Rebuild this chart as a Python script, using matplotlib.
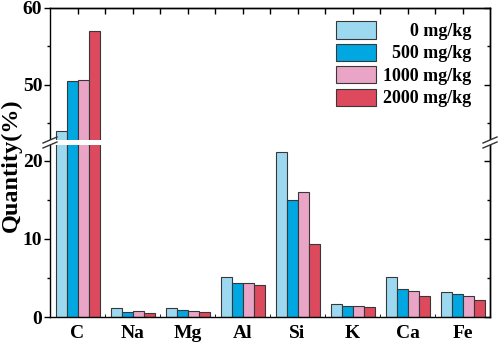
import numpy as np
import matplotlib.pyplot as plt
from matplotlib.lines import Line2D
from matplotlib.patches import Rectangle

plt.rcParams['font.family'] = 'Liberation Serif'
plt.rcParams['font.weight'] = 'bold'

elements = ['C', 'Na', 'Mg', 'Al', 'Si', 'K', 'Ca', 'Fe']
labels = ['      0 mg/kg', '  500 mg/kg', '1000 mg/kg', '2000 mg/kg']
colors = ['#9DD8F1', '#00A7E1', '#E9A4C6', '#DD4A5E']

q_0 = [44.0, 1.15, 1.15, 5.1, 21.2, 1.67, 5.15, 3.2]
q_500 = [50.5, 0.6, 0.85, 4.3, 15.0, 1.45, 3.6, 2.9]
q_1000 = [50.6, 0.73, 0.77, 4.4, 16.0, 1.41, 3.38, 2.74]
q_2000 = [57.0, 0.47, 0.6, 4.1, 9.4, 1.28, 2.7, 2.18]
series = [q_0, q_500, q_1000, q_2000]

W, H = 498, 343
fig = plt.figure(figsize=(W / 100, H / 100), dpi=100)

left, right = 50 / W, 490 / W
y0, ybrk, ytop = 1 - 317 / H, 1 - 142.5 / H, 1 - 8 / H
ax_lo = fig.add_axes([left, y0, right - left, ybrk - y0])
ax_hi = fig.add_axes([left, ybrk, right - left, ytop - ybrk])

x = np.arange(len(elements))
bw = 0.2
for ax in (ax_lo, ax_hi):
    for i, (vals, c, lab) in enumerate(zip(series, colors, labels)):
        ax.bar(x + (i - 1.5) * bw, vals, bw, color=c, edgecolor='#383838',
               linewidth=0.8, label=lab)
    ax.set_xlim(-0.5, 7.5)
    for s in ax.spines.values():
        s.set_linewidth(1.0)

ax_lo.set_ylim(0, 22.37)
ax_hi.set_ylim(42.53, 60)
ax_lo.spines['top'].set_visible(False)
ax_hi.spines['bottom'].set_visible(False)

ax_lo.set_yticks([0, 10, 20])
ax_lo.set_yticks([5, 15], minor=True)
ax_hi.set_yticks([50, 60])
ax_hi.set_yticks([45, 55], minor=True)

ax_lo.set_xticks(x)
ax_lo.set_xticklabels(elements, fontsize=14, fontweight='bold')
ax_lo.set_xticks(x[:-1] + 0.5, minor=True)
ax_lo.tick_params(axis='x', which='major', length=0, pad=6)
ax_lo.tick_params(axis='x', which='minor', direction='in', length=2)
ax_hi.tick_params(axis='x', which='both', bottom=False, labelbottom=False)

for ax in (ax_lo, ax_hi):
    ax.tick_params(axis='y', which='major', direction='out', length=4, width=1,
                   labelsize=14, pad=1.5)
    ax.tick_params(axis='y', which='minor', direction='out', length=2.5, width=1)
    for t in ax.get_yticklabels():
        t.set_fontweight('bold')
    sec = ax.secondary_yaxis('right')
    sec.set_yticks(ax.get_yticks())
    sec.set_yticks(ax.get_yticks(minor=True), minor=True)
    sec.tick_params(axis='y', which='both', direction='in', labelright=False, width=1)
    sec.tick_params(axis='y', which='major', length=4)
    sec.tick_params(axis='y', which='minor', length=2.5)
    sec.spines['right'].set_linewidth(1.0)

top = ax_hi.secondary_xaxis('top')
top.set_xticks(np.arange(0, 7.01, 0.5))
top.tick_params(axis='x', direction='in', length=4, width=1, labeltop=False)
top.spines['top'].set_linewidth(1.0)

fig.text(11 / W, 1 - 165 / H, 'Quantity(%)', rotation=90, fontsize=17.5,
         fontweight='bold', ha='center', va='center')

leg = ax_hi.legend(loc='upper right', bbox_to_anchor=(0.973, 0.955), frameon=False,
                   fontsize=13, handlelength=2.2, handleheight=1.1,
                   handletextpad=0.35, labelspacing=0.2, borderaxespad=0)

# axis break: white band and // marks
bx0, bx1 = 47 / W, 102 / W
fig.add_artist(Rectangle((bx0, 1 - 145 / H), bx1 - bx0, 5 / H, transform=fig.transFigure,
                         facecolor='white', edgecolor='none', zorder=10))
fig.add_artist(Rectangle((484 / W, 1 - 145 / H), 8 / W, 5 / H, transform=fig.transFigure,
                         facecolor='white', edgecolor='none', zorder=10))
for xc in (50, 490):
    for dy in (-2.5, 2.5):
        yc = 142.5 + dy
        fig.add_artist(Line2D([(xc - 7) / W, (xc + 7) / W],
                              [1 - (yc + 3) / H, 1 - (yc - 3) / H],
                              transform=fig.transFigure, color='#333333',
                              linewidth=1.0, zorder=11))

fig.savefig('out.png', dpi=100)
